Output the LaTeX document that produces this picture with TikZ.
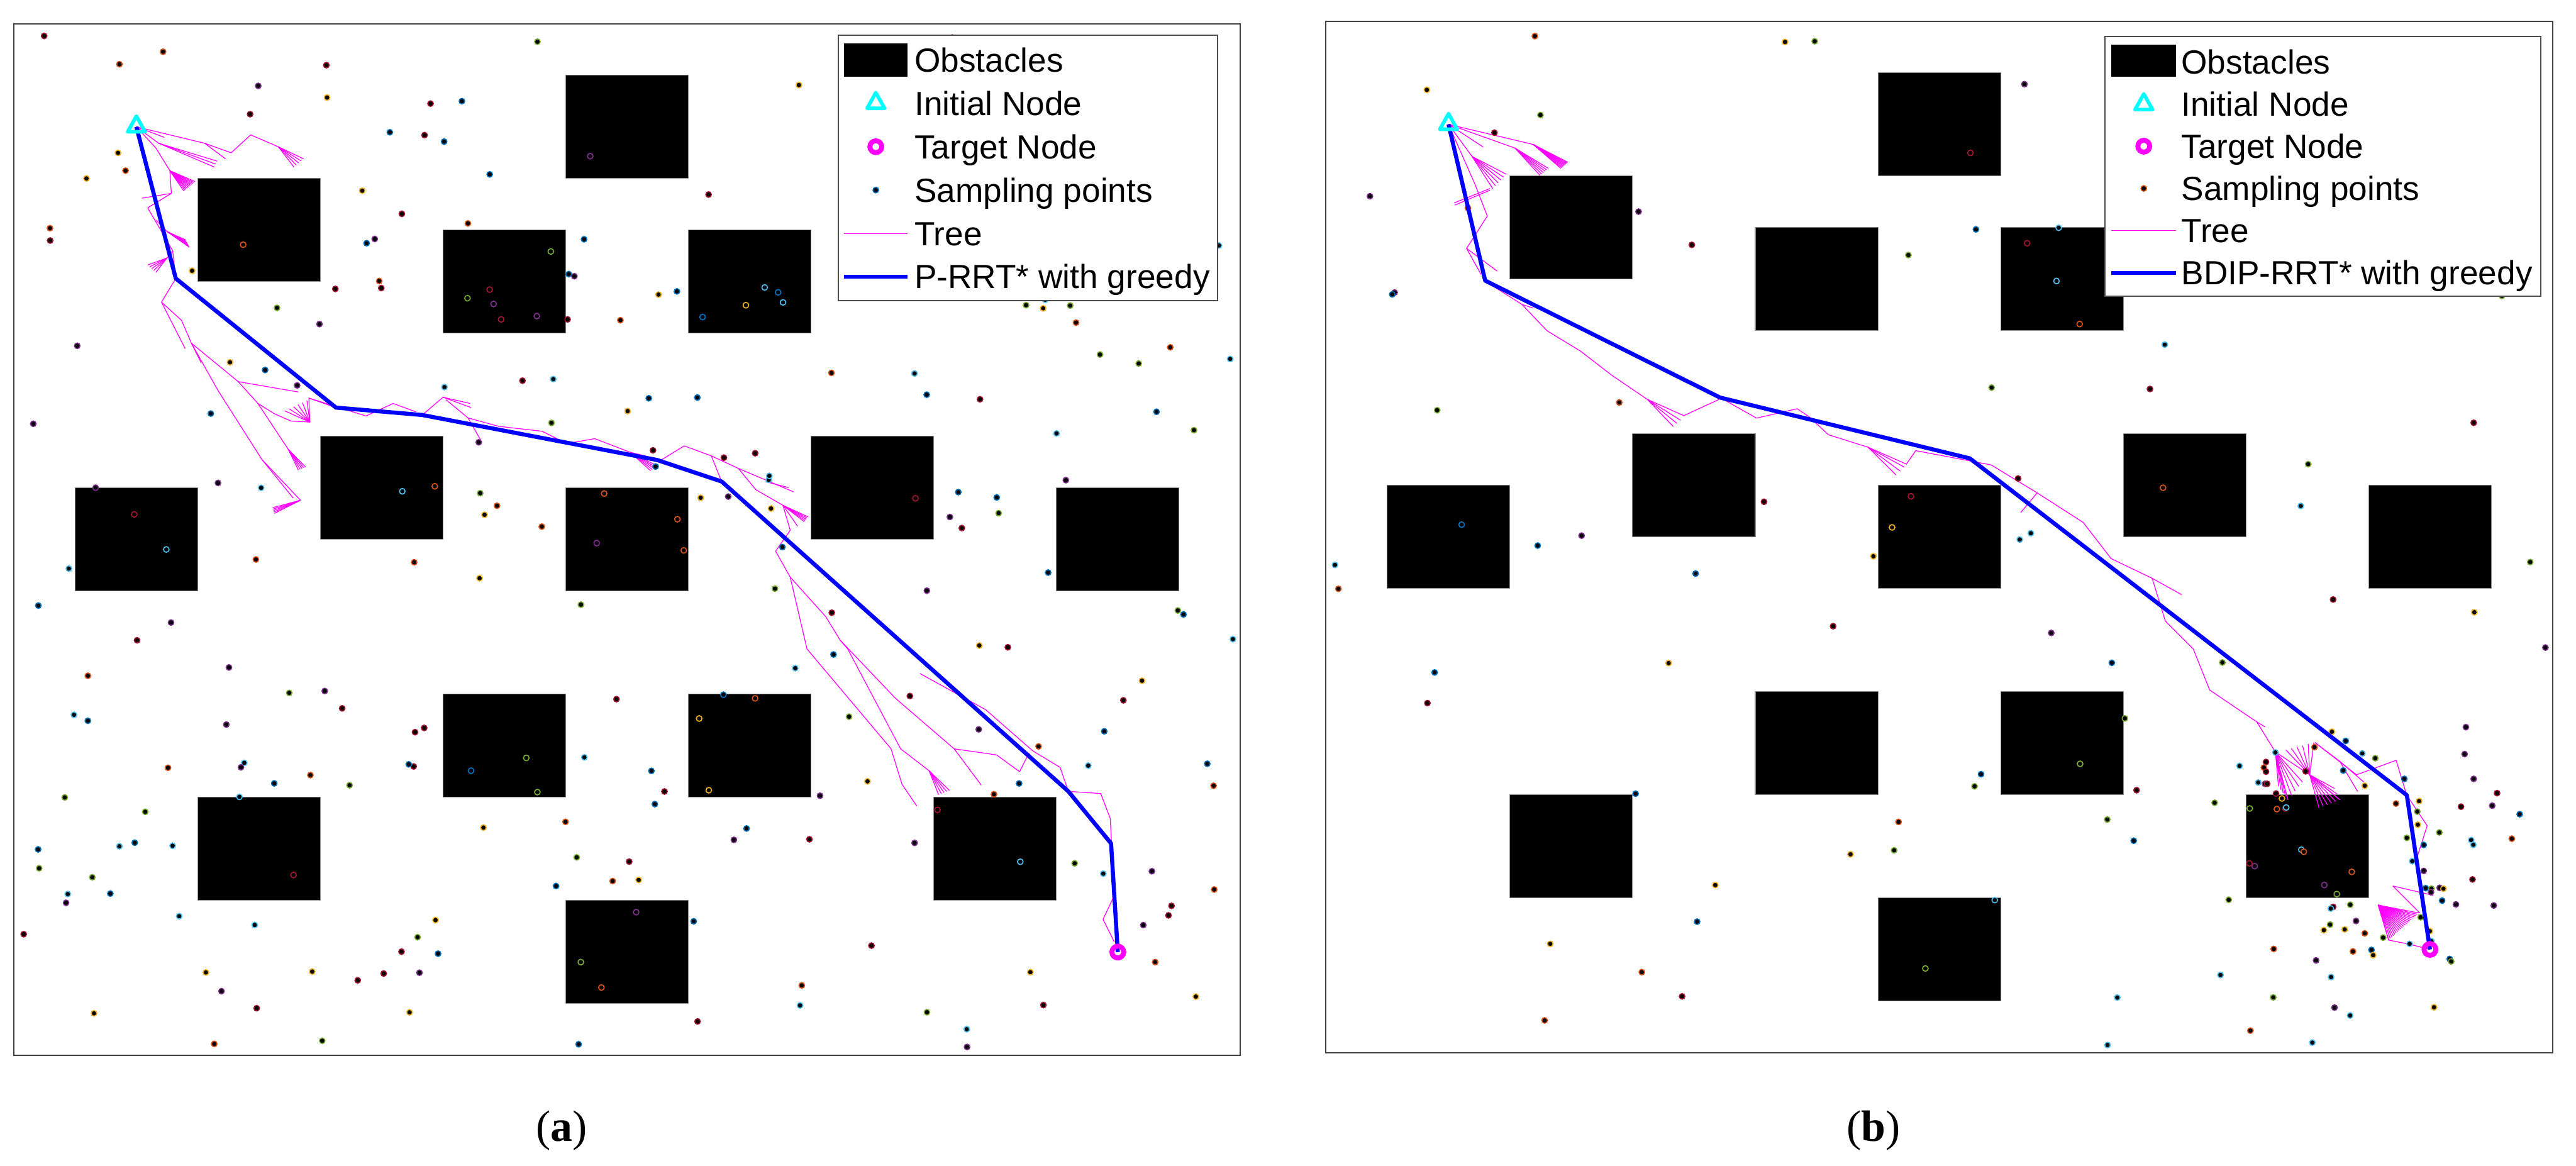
\documentclass[tikz,border=0pt]{standalone}
\usepackage{fontspec}
\setmainfont{Liberation Serif}
\newfontfamily\legfont{Liberation Sans}
\usetikzlibrary{calc}

% цвета точек выборки
\definecolor{sp0}{rgb}{0,0.447,0.741}
\definecolor{sp1}{rgb}{0.85,0.325,0.098}
\definecolor{sp2}{rgb}{0.929,0.694,0.125}
\definecolor{sp3}{rgb}{0.494,0.184,0.556}
\definecolor{sp4}{rgb}{0.466,0.674,0.188}
\definecolor{sp5}{rgb}{0.301,0.745,0.933}
\definecolor{sp6}{rgb}{0.635,0.078,0.184}
% цвета маркеров
\definecolor{mkcyan}{rgb}{0,1,1}
\definecolor{mkmag}{rgb}{1,0,1}
\definecolor{mkblue}{rgb}{0,0,1}

\tikzset{
  obst/.style={fill=black, draw=black!45, line width=0.1mm},
  axbox/.style={draw=black!75, line width=0.2mm},
  treeln/.style={mkmag, line width=0.12mm, line join=round},
  pathln/.style={mkblue, line width=0.62mm, line join=round},
  sampdot/.style={fill=black, draw=#1, line width=0.16mm},
  startmk/.style={mkcyan, line width=0.55mm, line join=round},
  goalmk/.style={mkmag, line width=0.75mm},
  legbox/.style={fill=white, draw=black!70, line width=0.2mm},
  legtxt/.style={anchor=base west, inner sep=0pt, font=\legfont\fontsize{14.5}{17}\selectfont},
  figlab/.style={inner sep=0pt, font=\fontsize{19}{22}\selectfont}
}

\newcommand\startmark[1]{\draw[startmk] (#1) ++(0,-6.5) -- ++(5.3,9.5) -- ++(-10.6,0) -- cycle;}
\newcommand\goalmark[1]{\draw[goalmk] (#1) circle[radius=0.9mm];}
\newcommand\sdot[2]{\path[sampdot=sp#2] (#1) circle[radius=0.43mm];}
\newcommand\fan[4][0.25]{\foreach \ft in {0,#1,...,1.001} \draw[treeln] (#2) -- ($(#3)!\ft!(#4)$);}

\begin{document}
\begin{tikzpicture}[x=0.25mm, y=-0.25mm]
    \useasboundingbox (0,0) rectangle (1568,709.55);
    \fill[white] (0,0) rectangle (1568,709.55);

    % ===== Панель (a) =====
    % Препятствия
    \begin{scope}[shift={(8.36,14.43)}, x=18.6675mm, y=-7.8475mm]
        \foreach \k/\j in {4/0,1/2,3/3,5/3,2/7,6/7,0/8,4/8,8/8,3/12,5/12,1/14,7/14,4/16}
            \draw[obst] (\k+0.5,\j+1) rectangle (\k+1.5,\j+3);
    \end{scope}

    \coordinate (sa) at (83.0,77.2);
    \coordinate (ga) at (680.4,579.5);

    % Дерево
    \draw[treeln] (sa) -- (100,83.6);
    \draw[treeln] (sa) -- (124.6,87.2) -- (140.7,93) -- (152.6,82.1) -- (169.5,89.4);
    \draw[treeln] (124.6,87.2) -- (137.3,96.7);
    \draw[treeln] (sa) -- (96.6,87.2);
    \draw[treeln] (sa) -- (94.9,90.1) -- (103.4,103.9) -- (104.3,117.7) -- (86.5,120.6);
    \draw[treeln] (104.3,117.7) -- (89.9,126.5) -- (105.1,152.6) -- (107,169.5);
    \draw[treeln] (95,134) -- (101.7,141);
    \draw[treeln] (105.1,152.6) -- (101.7,157);
    \draw[treeln] (107,169.5) -- (98.3,183.9) -- (110.5,195) -- (116.5,208.9) -- (122.5,220.9);
    \draw[treeln] (98.3,183.9) -- (112.7,212.2);
    \draw[treeln] (116.5,208.9) -- (145,232.3) -- (181.6,238.6);
    \draw[treeln] (145,232.3) -- (157,245.6) -- (167.1,251.9) -- (177.2,256.3) -- (188.6,256.9) -- (188,242.3) -- (204.5,248.1);
    \draw[treeln] (188,242.3) -- (222.8,253.2) -- (239.3,245.6) -- (253.2,250.7);
    \draw[treeln] (257,252.6) -- (269.7,241.8) -- (286.2,245.6);
    \draw[treeln] (269.7,241.8) -- (286.8,248.1);
    \draw[treeln] (271.5,243.3) -- (284.9,254.4) -- (292.5,267.7);
    \draw[treeln] (284.9,254.4) -- (303.5,259.5) -- (330,262.5) -- (345,270) -- (362,267) -- (383.6,275.3);
    \draw[treeln] (116.5,208.9) -- (132.9,238) -- (159.5,279.8) -- (182.9,304.5);
    \draw[treeln] (159.5,279.8) -- (178.5,303.2);
    \draw[treeln] (157,245.6) -- (175.4,273.4);
    \draw[treeln] (383.6,275.3) -- (402.6,279.9) -- (416.5,271.4) -- (433,277.5) -- (449.4,285.1) -- (483,299.4);
    \draw[treeln] (466,293.2) -- (480,296.8);
    \draw[treeln] (433,277.5) -- (438.7,291.8);
    \draw[treeln] (449.4,285.1) -- (460.1,298.1) -- (476.6,307.6);
    \draw[treeln] (476.6,307.6) -- (481,322.8) -- (472.1,335.5) -- (481,351.3) -- (491.2,395) -- (542.4,455.8) -- (549,477.3) -- (558,490.6);
    \draw[treeln] (481,351.3) -- (502.6,375.3) -- (511.5,389.8) -- (516,395) -- (548.2,455.8) -- (565.5,469.1);
    \draw[treeln] (476.6,307.6) -- (485.5,320.3);
    \draw[treeln] (511.5,389.8) -- (545,425) -- (580.8,455.8) -- (597.3,477.9);
    \draw[treeln] (580.8,455.8) -- (606.6,459.5) -- (620.6,469.7) -- (626.4,458.3);
    \draw[treeln] (560,410) -- (600,432) -- (628.6,457) -- (645.3,467.1) -- (650.3,481.7) -- (670,483) -- (675.8,498.2) -- (676.6,514);
    \draw[treeln] (676.3,513.4) -- (677.4,546.9) -- (671.4,559.6) -- (678.3,573.4);
    \fan{169.5,89.4}{184.8,96.7}{178.9,101.7}
    \fan[0.5]{96.6,87.2}{132.2,98.1}{130.5,101.7}
    \fan[0.1]{103.4,103.9}{118.7,110.5}{111.9,116.3}
    \fan[0.2]{101.7,141}{113,146}{115.3,150.5}
    \fan{101.7,157}{89.9,161.3}{94.9,165.7}
    \fan[0.2]{188.6,256.9}{173.3,250.1}{186.8,243.8}
    \fan{182.9,304.5}{166,309}{167,312.5}
    \fan{175.4,273.4}{181.6,286.1}{186,284.3}
    \fan{383.6,275.3}{396,286.5}{400,283.5}
    \fan{476.6,307.6}{491.9,314.6}{489.5,317.5}
    \fan{565.5,469.1}{577.9,481.1}{571.3,483.7}

    % Точки выборки
    \pgfmathsetseed{4213}
    \foreach \n in {1,...,265}{
        \pgfmathsetmacro\sx{12+739*rnd}
        \pgfmathsetmacro\sy{18+620*rnd}
        \pgfmathtruncatemacro\sc{mod(int(7*rnd),7)}
        \sdot{\sx,\sy}{\sc}
    }

    % Путь
    \draw[pathln] (sa) -- (107,169.5) -- (204.5,248.1) -- (257,252.6) -- (400,280) -- (439.3,293.1) -- (650.3,481.7) -- (676.3,513.4) -- (ga);
    \startmark{sa}
    \goalmark{ga}

    % Легенда (a)
    \draw[legbox] (510.4,21.5) rectangle (741,183);
    \fill[black] (513.7,26.3) rectangle (552.4,46.6);
    \startmark{533.1,62.9}
    \goalmark{533.1,89.3}
    \sdot{533.1,115.7}{0}
    \draw[treeln] (513.7,142.1) -- (552.4,142.1);
    \draw[pathln] (513.7,168.5) -- (552.4,168.5);
    \node[legtxt] (obsa) at (556.4,43.7) {Obstacles};
    \node[legtxt] (inia) at (556.4,70.1) {Initial Node};
    \node[legtxt] (tara) at (556.4,96.5) {Target Node};
    \node[legtxt] (sama) at (556.4,122.9) {Sampling points};
    \node[legtxt] (trea) at (556.4,149.3) {Tree};
    \node[legtxt] (alga) at (556.4,175.7) {P-RRT* with greedy};

    \draw[axbox] (8.36,14.43) rectangle (755.03,642.2);
    \node[figlab] (laba) at (341.8,688.2) {(\textbf{a})};

    % ===== Панель (b) =====
    \begin{scope}[shift={(807.07,12.91)}, x=18.6675mm, y=-7.8475mm]
        \foreach \k/\j in {4/0,1/2,3/3,5/3,2/7,6/7,0/8,4/8,8/8,3/12,5/12,1/14,7/14,4/16}
            \draw[obst] (\k+0.5,\j+1) rectangle (\k+1.5,\j+3);
    \end{scope}

    \coordinate (sb) at (881.7,75.7);
    \coordinate (gb) at (1479.1,577.9);

    % Дерево
    \draw[treeln] (sb) -- (902.7,89.4);
    \draw[treeln] (sb) -- (933.2,87.9);
    \draw[treeln] (sb) -- (922.1,90.1);
    \draw[treeln] (sb) -- (896,95.2);
    \draw[treeln] (sb) -- (897.7,111.9) -- (905.3,131.5) -- (892.7,151.2) -- (911.3,165);
    \draw[treeln] (892.7,151.2) -- (901.5,167);
    \draw[treeln] (906.9,114.8) -- (885.2,123.5);
    \draw[treeln] (906.9,115.8) -- (885.6,124.8);
    \draw[treeln] (904,170.8) -- (910.3,175.1) -- (926.4,185.3) -- (933.2,187.5);
    \draw[treeln] (926.4,185.3) -- (941.6,201.3) -- (962,213.7) -- (981.2,228.5) -- (1002.7,243.1) -- (1024.9,253) -- (1046.4,243.1);
    \draw[treeln] (1047,242) -- (1069.2,254.5) -- (1093.9,248.8) -- (1101.5,253.9) -- (1112.9,264.6) -- (1137,272.2) -- (1160.4,282.5) -- (1166.1,274.3);
    \draw[treeln] (1166.1,274.3) -- (1212,283) -- (1240,300) -- (1268,318) -- (1285,340) -- (1310,352) -- (1318,378) -- (1335,395) -- (1345,420) -- (1369.8,436.8) -- (1373.6,439.3) -- (1378.7,442.5);
    \draw[treeln] (1240,300) -- (1230,312);
    \draw[treeln] (1310,352) -- (1328,362);
    \draw[treeln] (1373.6,439.3) -- (1385,457.7) -- (1405.9,471.6);
    \draw[treeln] (1409.1,452) -- (1424.2,463.4) -- (1435,481.7);
    \draw[treeln] (1424.2,463.4) -- (1438.8,476);
    \draw[treeln] (1409.1,452) -- (1434.4,471.6) -- (1458.5,462.8) -- (1464.9,483.9) -- (1477.4,502.6) -- (1471.7,520.4);
    \draw[treeln] (1456.5,539.3) -- (1481.2,545);
    \draw[treeln] (1456.5,539.3) -- (1472.9,555.7);
    \draw[treeln] (1447.6,550.9) -- (1453.9,572.2) -- (1466.5,574.7) -- (gb);
    \fan[0.125]{933.2,87.9}{954.4,98.8}{950.1,102.5}
    \fan[0.2]{922.1,90.1}{942.5,102.5}{937.4,106.8}
    \fan[0.2]{896,95.2}{916.9,106.1}{908.6,114.8}
    \fan[0.5]{1002.7,243.1}{1018.5,259.6}{1023,255.8}
    \fan[0.5]{1137,272.2}{1154.1,289.1}{1159.2,284.4}
    \fan{1385,457.7}{1386.9,478.6}{1392.6,486.8}
    \fan{1385,457.7}{1392.6,486.8}{1401.5,476}
    \fan[0.2]{1405.9,471.6}{1391.3,456.4}{1408.4,452}
    \fan[0.2]{1405.9,471.6}{1411.6,491.9}{1424.2,486.8}
    \fan[0.5]{1405.9,471.6}{1424.2,486.8}{1421.1,480}
    \fan[0.05]{1447.6,550.9}{1472.3,555.7}{1454,572}

    % Точки выборки
    \pgfmathsetseed{877}
    \foreach \n in {1,...,95}{
        \pgfmathsetmacro\sx{811+739*rnd}
        \pgfmathsetmacro\sy{17+620*rnd}
        \pgfmathtruncatemacro\sc{mod(int(7*rnd),7)}
        \sdot{\sx,\sy}{\sc}
    }
    \foreach \sx/\sy/\sc in {1419.4/445.4/2, 1427.8/451.0/0, 1437.9/458.6/5, 1445.8/461.5/4,
        1426.3/469.0/0, 1439.4/478.3/2, 1463.5/474.1/0, 1500.2/459.0/3, 1505.7/474.1/3,
        1517.0/490.4/3, 1498.0/491.0/6, 1458.4/489.1/1, 1471.4/494.0/4, 1471.7/502.0/2,
        1484.8/506.7/4, 1465.0/510.0/4, 1475.3/514.3/0, 1468.3/524.2/5, 1475.3/530.1/3,
        1505.0/535.3/6, 1476.5/540.6/0, 1480.0/540.9/4, 1485.0/540.4/3, 1487.3/540.9/2,
        1479.7/543.1/3, 1486.5/548.2/0, 1494.9/550.5/3, 1473.4/558.3/4, 1479.0/566.8/2,
        1480.0/572.9/5, 1491.1/583.7/0, 1492.0/585.2/4, 1450.6/570.7/4, 1466.7/574.5/5,
        1439.4/568.1/1, 1434.1/560.6/3, 1427.2/565.7/2, 1418.3/562.8/4, 1414.5/566.2/2,
        1430.6/550.7/4, 1420.2/552.0/6, 1418.7/553.0/5, 1443.5/578.2/0, 1444.5/581.4/2,
        1432.2/579.1/1, 1384.0/577.6/1, 1418.9/594.7/5, 1383.7/607.1/4, 1356.6/547.7/4,
        1363.2/466.2/5, 1379.3/463.8/6, 1378.0/467.2/1, 1379.3/469.7/6, 1374.6/476.3/5,
        1378.7/477.1/3, 1380.0/477.1/6, 1385.4/483.0/6, 1385.0/458.0/5, 1403.4/469.5/6,
        1408.8/454.8/1, 1533.7/495.6/0, 1528.9/510.5/1, 1421.0/613.3/3, 1430.5/618.1/5,
        1407.5/634.6/5, 1389.0/486.0/2, 1369.4/492.1/4, 1385.9/492.5/1, 1391.0/492.1/6,
        1391.6/491.5/5, 1400.8/517.2/5, 1402.3/518.5/1, 1431.5/530.7/1, 1414.8/538.7/3,
        1422.4/544.2/4}
        \sdot{\sx,\sy}{\sc};

    % Путь
    \draw[pathln] (sb) -- (904,170.8) -- (1047,242) -- (1199,279) -- (1465,484) -- (gb);
    \startmark{sb}
    \goalmark{gb}

    % Легенда (b)
    \draw[legbox] (1281.4,22.2) rectangle (1546.4,180.4);
    \fill[black] (1285.2,27.2) rectangle (1324.6,46.6);
    \startmark{1304.9,63.7}
    \goalmark{1304.9,89}
    \sdot{1304.9,114.7}{1}
    \draw[treeln] (1285.2,140.4) -- (1324.6,140.4);
    \draw[pathln] (1285.2,166.1) -- (1324.6,166.1);
    \node[legtxt] (obsb) at (1327.5,44.8) {Obstacles};
    \node[legtxt] (inib) at (1327.5,70.5) {Initial Node};
    \node[legtxt] (tarb) at (1327.5,96.2) {Target Node};
    \node[legtxt] (samb) at (1327.5,121.9) {Sampling points};
    \node[legtxt] (treb) at (1327.5,147.6) {Tree};
    \node[legtxt] (algb) at (1327.5,173.3) {BDIP-RRT* with greedy};

    \draw[axbox] (807.07,12.91) rectangle (1553.74,640.72);
    \node[figlab] (labb) at (1140.5,688.2) {(\textbf{b})};
\end{tikzpicture}
\end{document}
